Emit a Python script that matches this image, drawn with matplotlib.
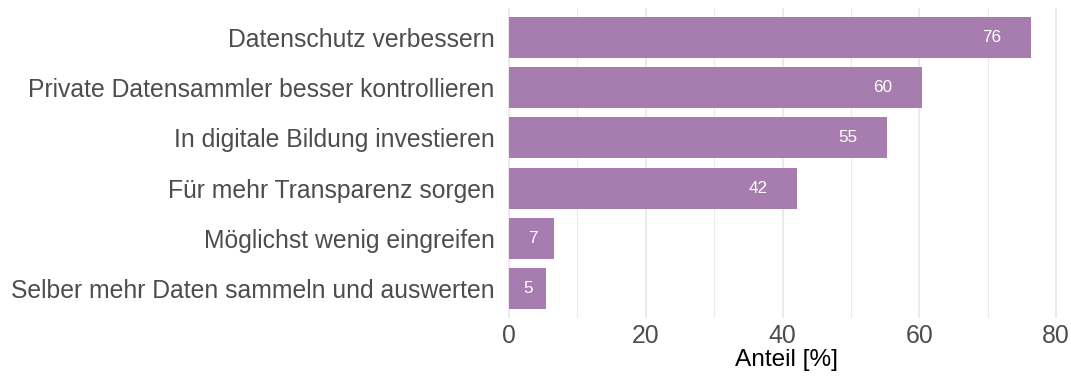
import numpy as np
import matplotlib.pyplot as plt
from matplotlib.ticker import MultipleLocator

plt.rcParams['font.family'] = ['Liberation Sans', 'DejaVu Sans']

massnahmen = [
    'Datenschutz verbessern',
    'Private Datensammler besser kontrollieren',
    'In digitale Bildung investieren',
    'Für mehr Transparenz sorgen',
    'Möglichst wenig eingreifen',
    'Selber mehr Daten sammeln und auswerten',
]
anteil = [76.4, 60.4, 55.3, 42.1, 6.6, 5.4]

bar_color = '#A67DAE'
grid_color = '#EBEBEB'

fig = plt.figure(figsize=(10.71, 3.76), dpi=100)
ax = fig.add_axes([0.4734, 0.153, 0.521, 0.827])

y = np.arange(len(massnahmen))[::-1]
ax.barh(y, anteil, height=0.82, color=bar_color, zorder=2)

# value labels sit inside the bar, near its end
for yi, v in zip(y, anteil):
    x_lab = max(v - 5.75, v * 0.52)
    ax.text(x_lab, yi, f'{round(v)}', color='white', fontsize=12.3,
            ha='center', va='center', zorder=3)

ax.set_xlim(-0.3, 81.3)
ax.set_ylim(-0.6, len(massnahmen) - 0.4)
ax.set_yticks(y)
ax.set_yticklabels(massnahmen)
ax.xaxis.set_major_locator(MultipleLocator(20))
ax.xaxis.set_minor_locator(MultipleLocator(10))

ax.grid(axis='x', which='major', color=grid_color, linewidth=1.4, zorder=0)
ax.grid(axis='x', which='minor', color=grid_color, linewidth=0.8, zorder=0)
ax.grid(axis='y', visible=False)
ax.set_axisbelow(True)

for s in ax.spines.values():
    s.set_visible(False)
ax.tick_params(axis='both', which='both', length=0, labelsize=17.8,
               labelcolor='#4D4D4D')
ax.tick_params(axis='y', pad=9)
ax.tick_params(axis='x', pad=4)

ax.set_xlabel('Anteil [%]', fontsize=17.6, color='black', labelpad=1)

fig.savefig('out.png', dpi=100)
